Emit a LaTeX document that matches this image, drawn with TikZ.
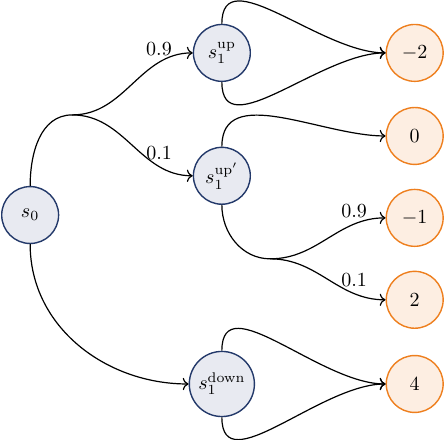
\documentclass[tikz,border=0pt]{standalone}
\usepackage{amsmath}
\usetikzlibrary{arrows.meta,positioning}
\definecolor{StateFill}{HTML}{E8EAF1}
\definecolor{StateLine}{HTML}{23396A}
\definecolor{RewardFill}{HTML}{FDEEE2}
\definecolor{RewardLine}{HTML}{EE7F1E}
\tikzset{
  state/.style={circle,draw=StateLine,fill=StateFill,line width=0.7pt,
    minimum size=1cm,inner sep=2.5pt},
  reward/.style={circle,draw=RewardLine,fill=RewardFill,line width=0.7pt,
    minimum size=1cm,inner sep=1pt},
  edge/.style={line width=0.6pt},
  prob/.style={pos=0.75,above}
}
\begin{document}
\begin{tikzpicture}
        \useasboundingbox (0,0) rectangle (7.84,7.73);

        % states
        \node[state] (s0) at (0.53,3.95) {$s_0$};
        \node[state] (up) at (3.90,6.80) {$s_1^{\mathrm{up}}$};
        \node[state] (upp) at (3.90,4.64) {$s_1^{\mathrm{up}'}$};
        \node[state] (down) at (3.90,0.98) {$s_1^{\mathrm{down}}$};

        % rewards
        \node[reward] (rA) at (7.29,6.80) {$-2$};
        \node[reward] (rB) at (7.29,5.34) {$0$};
        \node[reward] (rC) at (7.29,3.90) {$-1$};
        \node[reward] (rD) at (7.29,2.46) {$2$};
        \node[reward] (rE) at (7.29,0.98) {$4$};

        % chance points
        \coordinate (b1) at (1.27,5.71);
        \coordinate (b2) at (4.75,3.18);

        \draw[edge] (s0.north) to[out=90,in=180] (b1);
        \draw[edge,->] (b1) to[out=0,in=180] node[prob] {$0.9$} (up.west);
        \draw[edge,->] (b1) to[out=0,in=180] node[prob] {$0.1$} (upp.west);
        \draw[edge,->] (s0.south) to[out=-90,in=180] (down.west);

        \draw[edge,->] (up.north) to[out=90,in=180] (rA.west);
        \draw[edge,->] (up.south) to[out=-90,in=180] (rA.west);

        \draw[edge,->] (upp.north) to[out=90,in=180] (rB.west);
        \draw[edge] (upp.south) to[out=-90,in=180] (b2);
        \draw[edge,->] (b2) to[out=0,in=180] node[prob] {$0.9$} (rC.west);
        \draw[edge,->] (b2) to[out=0,in=180] node[prob] {$0.1$} (rD.west);

        \draw[edge,->] (down.north) to[out=90,in=180] (rE.west);
        \draw[edge,->] (down.south) to[out=-90,in=180] (rE.west);
\end{tikzpicture}
\end{document}
